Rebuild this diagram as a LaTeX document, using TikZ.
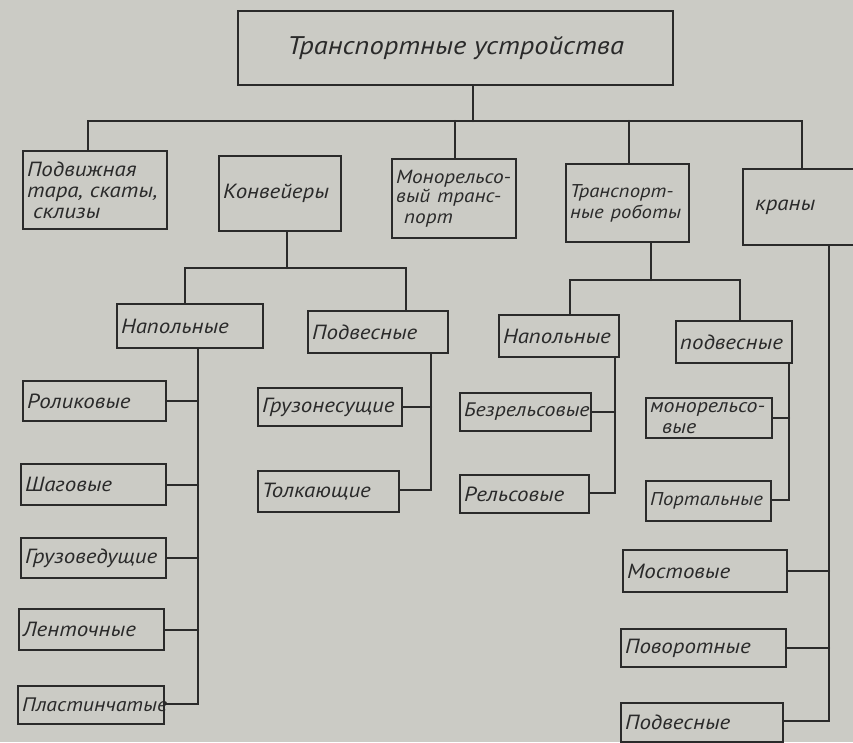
\documentclass[tikz,border=0pt]{standalone}
\usepackage{fontspec}
\setmainfont{PT Sans}[FakeStretch=1.12]
\definecolor{paper}{HTML}{CBCBC5}
\definecolor{ink}{HTML}{2A2A2A}
\tikzset{
  kbox/.style={draw=ink, line width=2.2pt, anchor=north west, inner sep=4pt, align=left,
    font=\itshape\fontsize{20.5}{21}\selectfont, text=ink},
  conn/.style={draw=ink, line width=2.2pt, line cap=round},
}
\newcommand\kbox[6]{%
  \pgfmathsetmacro\kbw{#4-#2}%
  \pgfmathsetmacro\kbh{#5-#3}%
  \pgfmathsetmacro\kbt{#4-#2-8}%
  \node[kbox, minimum width=\kbw pt, minimum height=\kbh pt, text width=\kbt pt] (#1) at (#2,#3) {#6};}
\begin{document}
\begin{tikzpicture}[x=1pt,y=-1pt]
\fill[paper] (0,0) rectangle (853,742);
\useasboundingbox (0,0) rectangle (853,742);

% top
\node[kbox, minimum width=435pt, minimum height=74pt, align=center, font=\itshape\fontsize{25.5}{30}\selectfont] (top) at (237,10) {Транспортные устройства};

% level 1
\kbox{p1}{22}{150}{166}{228}{Подвижная\\тара, скаты,\\\hspace*{6pt}склизы}
\kbox{conv}{218}{155}{340}{230}{Конвейеры}
\kbox{mono}{391}{158}{515}{237}{\fontsize{19}{19}\selectfont Монорельсо-\\вый транс-\\\hspace*{8pt}порт}
\kbox{rob}{565}{163}{688}{241}{\fontsize{18.5}{24}\selectfont Транспорт-\\ные роботы}
\kbox{kr}{742}{168}{856}{244}{\hspace*{8pt}краны}

\coordinate (bL) at (88,121);
\coordinate (bR) at (802,121);
\coordinate (tS) at (473,121);
\coordinate (bM) at (455,121);
\coordinate (bRo) at (629,121);
\draw[conn] (tS |- top.south) -- (tS);
\draw[conn] (bL |- p1.north) -- (bL) -- (bR) -- (bR |- kr.north);
\draw[conn] (bM) -- (bM |- mono.north);
\draw[conn] (bRo) -- (bRo |- rob.north);

% level 2
\kbox{cn}{116}{303}{262}{347}{Напольные}
\kbox{cp}{307}{310}{447}{352}{Подвесные}
\kbox{rn}{498}{314}{618}{356}{Напольные}
\kbox{rp}{675}{320}{791}{362}{подвесные}

\coordinate (cJ) at (287,268);
\coordinate (cL) at (185,268);
\coordinate (cR) at (406,268);
\draw[conn] (cJ |- conv.south) -- (cJ);
\draw[conn] (cL |- cn.north) -- (cL) -- (cR) -- (cR |- cp.north);

\coordinate (rJ) at (651,280);
\coordinate (rL) at (570,280);
\coordinate (rR) at (740,280);
\draw[conn] (rJ |- rob.south) -- (rJ);
\draw[conn] (rL |- rn.north) -- (rL) -- (rR) -- (rR |- rp.north);

% level 3: floor conveyors
\kbox{c1}{22}{380}{165}{420}{Роликовые}
\kbox{c2}{20}{463}{165}{504}{Шаговые}
\kbox{c3}{20}{537}{165}{577}{Грузоведущие}
\kbox{c4}{18}{608}{163}{649}{Ленточные}
\kbox{c5}{17}{685}{163}{723}{\fontsize{19.5}{21}\selectfont Пластинчатые}
\coordinate (s1) at (198,704);
\draw[conn] (s1 |- cn.south) -- (s1) -- (s1 -| c5.east);
\foreach \c in {c1,c2,c3,c4} \draw[conn] (\c.east) -- (\c.east -| s1);

% overhead conveyors
\kbox{d1}{257}{387}{401}{425}{Грузонесущие}
\kbox{d2}{257}{470}{398}{511}{Толкающие}
\coordinate (s2) at (431,490);
\draw[conn] (s2 |- cp.south) -- (s2) -- (s2 -| d2.east);
\draw[conn] (d1.east) -- (d1.east -| s2);

% floor robots
\kbox{r1}{459}{392}{590}{430}{\fontsize{19.5}{21}\selectfont Безрельсовые}
\kbox{r2}{459}{474}{588}{512}{Рельсовые}
\coordinate (s3) at (615,493);
\draw[conn] (s3 |- rn.south) -- (s3) -- (s3 -| r2.east);
\draw[conn] (r1.east) -- (r1.east -| s3);

% overhead robots
\kbox{q1}{645}{397}{771}{437}{\fontsize{19.5}{16}\selectfont монорельсо-\\\hspace*{12pt}вые}
\kbox{q2}{645}{480}{770}{520}{\fontsize{18.5}{19}\selectfont Портальные}
\coordinate (s4) at (789,500);
\draw[conn] (s4 |- rp.south) -- (s4) -- (s4 -| q2.east);
\draw[conn] (q1.east) -- (q1.east -| s4);

% cranes
\kbox{k1}{622}{549}{786}{591}{Мостовые}
\kbox{k2}{620}{628}{785}{666}{Поворотные}
\kbox{k3}{620}{702}{782}{741}{Подвесные}
\coordinate (s5) at (829,721);
\draw[conn] (s5 |- kr.south) -- (s5) -- (s5 -| k3.east);
\foreach \c in {k1,k2} \draw[conn] (\c.east) -- (\c.east -| s5);
\end{tikzpicture}
\end{document}
